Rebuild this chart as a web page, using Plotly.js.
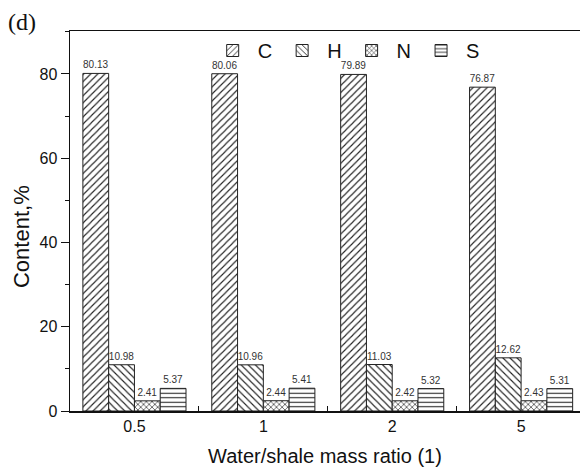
<!DOCTYPE html>
<html>
<head>
<meta charset="utf-8">
<script src="https://cdn.plot.ly/plotly-3.0.1.min.js"></script>
<style>
html,body{margin:0;padding:0;background:#fff;}
#chart{width:580px;height:468px;}
</style>
</head>
<body>
<div id="chart"></div>
<script>
const ratios = ["0.5", "1", "2", "5"];
const carbon = [80.13, 80.06, 79.89, 76.87];
const hydrogen = [10.98, 10.96, 11.03, 12.62];
const nitrogen = [2.41, 2.44, 2.42, 2.43];
const sulfur = [5.37, 5.41, 5.32, 5.31];
const seriesNames = ["C", "H", "N", "S"];

const shapes = ["/", "\\", "x", "-"];
const sizes = [5, 5, 4, 4.5];
const solid = [0.22, 0.22, 0.3, 0.24];
const allSeries = [carbon, hydrogen, nitrogen, sulfur];

const traces = allSeries.map((vals, i) => ({
  type: "bar",
  name: seriesNames[i],
  x: ratios,
  y: vals,
  text: vals.map(v => v.toFixed(2)),
  textposition: "outside",
  cliponaxis: false,
  textfont: {family: "Liberation Sans, Arial, sans-serif", size: 10, color: "#333"},
  marker: {
    color: "white",
    line: {color: "#222", width: 1},
    pattern: {shape: shapes[i], size: sizes[i], solidity: solid[i], fgcolor: "#222", bgcolor: "white"}
  },
  hoverinfo: "skip"
}));

const layout = {
  width: 580,
  height: 468,
  margin: {l: 70, r: 0, t: 31, b: 57},
  paper_bgcolor: "white",
  plot_bgcolor: "white",
  font: {family: "Liberation Sans, Arial, sans-serif", color: "#111"},
  barmode: "group",
  bargap: 0.2,
  bargroupgap: 0,
  showlegend: true,
  legend: {
    orientation: "h",
    x: 0.27, xanchor: "left",
    y: 1.0, yanchor: "top",
    font: {size: 20, color: "#111"},
    itemwidth: 40,
    bgcolor: "rgba(0,0,0,0)",
    traceorder: "normal"
  },
  xaxis: {
    type: "category",
    range: [-0.5, 3.457],
    showline: true, linecolor: "#111", linewidth: 1.5, mirror: true,
    ticks: "inside", tickson: "boundaries", ticklen: 5, tickcolor: "#111",
    showgrid: false, zeroline: false,
    tickfont: {size: 16, color: "#111"},
    title: {text: "Water/shale mass ratio (1)", font: {size: 20, color: "#111"}, standoff: 15}
  },
  yaxis: {
    range: [0, 90.2],
    dtick: 20, tick0: 0,
    showline: true, linecolor: "#111", linewidth: 1.5,
    ticks: "outside", ticklen: 8, tickcolor: "#111",
    minor: {ticks: "outside", ticklen: 4, dtick: 10, tickcolor: "#111"},
    showgrid: false, zeroline: false,
    tickfont: {size: 16, color: "#111"}
  },
  annotations: [{
    text: "(d)", xref: "paper", yref: "paper",
    x: -0.125, y: 1.025, xanchor: "left", yanchor: "middle",
    showarrow: false,
    font: {family: "Liberation Serif, Times New Roman, serif", size: 24, color: "#111"}
  }, {
    text: "Content,%", xref: "paper", yref: "paper",
    x: -0.094, y: 0.458, xanchor: "center", yanchor: "middle",
    textangle: -90, showarrow: false,
    font: {size: 22, color: "#111"}
  }]
};

Plotly.newPlot("chart", traces, layout, {staticPlot: true, displayModeBar: false});
</script>
</body>
</html>
